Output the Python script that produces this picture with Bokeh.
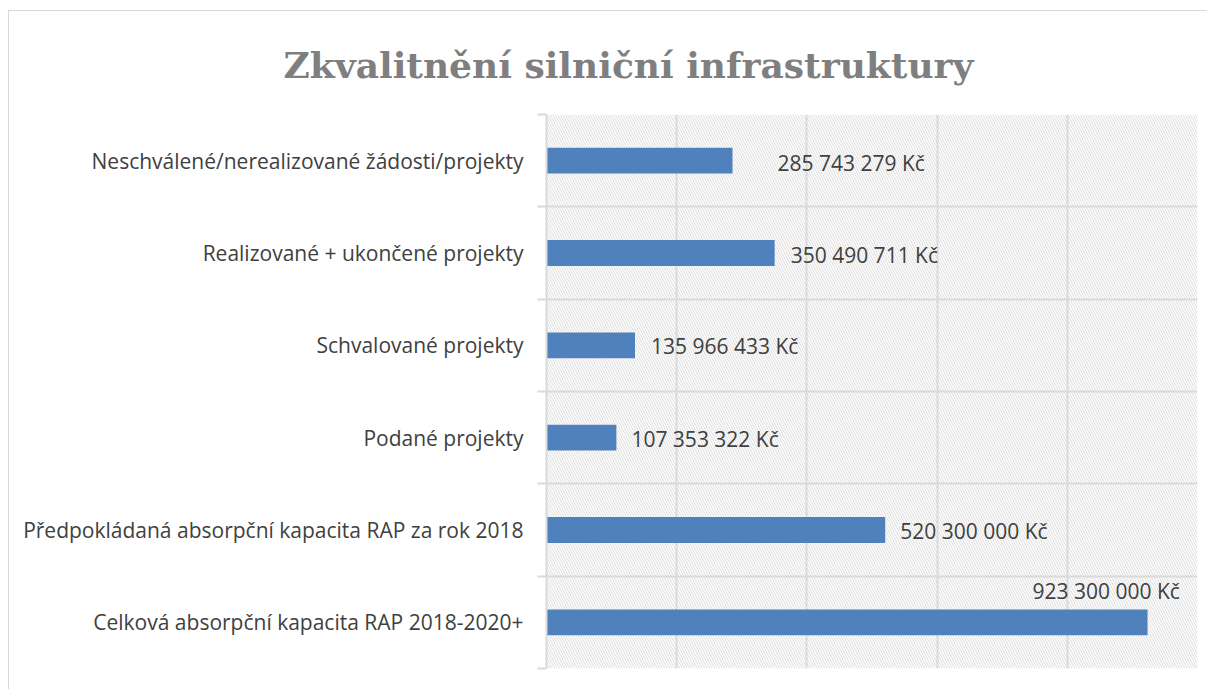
from bokeh.plotting import figure
from bokeh.models import Range1d, FixedTicker, BoxAnnotation, ColumnDataSource
from bokeh.core.properties import value
from bokeh.embed import file_html
from bokeh.resources import INLINE

# ---- data (top to bottom) ----
title_text = "Zkvalitnění silniční infrastruktury"
categories = [
    "Neschválené/nerealizované žádosti/projekty",
    "Realizované + ukončené projekty",
    "Schvalované projekty",
    "Podané projekty",
    "Předpokládaná absorpční kapacita RAP za rok 2018",
    "Celková absorpční kapacita RAP 2018-2020+",
]
values = [285743279, 350490711, 135966433, 107353322, 520300000, 923300000]
grid_values = [0, 200000000, 400000000, 600000000, 800000000, 1000000000]

# label placement tweaks (style, pixels; positive dy = down)
label_dx = [45, 16, 16, 15, 15, -115]
label_dy = [2, 2, 1, 1, 1, -31]

n = len(categories)
ypos = [n - 0.5 - i for i in range(n)]
labels = [f"{v:,}".replace(",", " ") + " Kč" for v in values]

src = ColumnDataSource(dict(y=ypos, v=values, lab=labels, dx=label_dx, dy=label_dy))

p = figure(width=1199, height=679, output_backend="svg", toolbar_location=None,
           x_range=Range1d(0, grid_values[-1]), y_range=Range1d(0, n),
           min_border_left=537, min_border_right=11, min_border_top=103, min_border_bottom=22,
           title=title_text)
p.outline_line_color = None
p.background_fill_color = "white"
p.border_fill_color = "white"
p.styles = {"border-top": "1px solid #d9d9d9", "border-left": "1px solid #d9d9d9",
            "margin-top": "10px", "margin-left": "8px"}

# title
p.title.text_font = "DejaVu Serif"
p.title.text_font_style = "bold"
p.title.text_font_size = "36px"
p.title.text_color = "#7f7f7f"
p.title.align = "left"
p.title.offset = -263
p.title.standoff = 58

# hatched background (downward diagonal)
p.add_layout(BoxAnnotation(fill_color=None, line_color=None, hatch_pattern="\\",
                           hatch_color="#dcdcdc", hatch_scale=5, hatch_weight=1,
                           level="underlay"))

# bars
p.hbar(y="y", right="v", left=0, height=0.28, source=src, color="#4f81bd", line_color=None)

# value labels
p.text(x="v", y="y", text="lab", x_offset="dx", y_offset="dy", source=src,
       text_font=value("Open Sans"), text_font_size="21px", text_color="#404040",
       text_align="left", text_baseline="middle")

# grids
p.xgrid.ticker = FixedTicker(ticks=grid_values)
p.xgrid.grid_line_color = "#d9d9d9"
p.xgrid.grid_line_width = 2
p.ygrid.ticker = FixedTicker(ticks=list(range(n + 1)))
p.ygrid.grid_line_color = "#d9d9d9"
p.ygrid.grid_line_width = 2

# axes
p.xaxis.visible = False
yax = p.yaxis[0]
yax.ticker = FixedTicker(ticks=ypos, minor_ticks=list(range(n + 1)))
yax.major_label_overrides = {y: c for y, c in zip(ypos, categories)}
yax.major_tick_line_color = None
yax.major_tick_out = 0
yax.major_tick_in = 0
yax.minor_tick_out = 9
yax.minor_tick_in = 0
yax.minor_tick_line_color = "#d9d9d9"
yax.minor_tick_line_width = 2
yax.axis_line_color = "#d9d9d9"
yax.axis_line_width = 2
yax.major_label_standoff = 14
yax.major_label_text_font = "Open Sans"
yax.major_label_text_font_size = "21px"
yax.major_label_text_color = "#404040"

open("out.html", "w").write(file_html(p, INLINE))
